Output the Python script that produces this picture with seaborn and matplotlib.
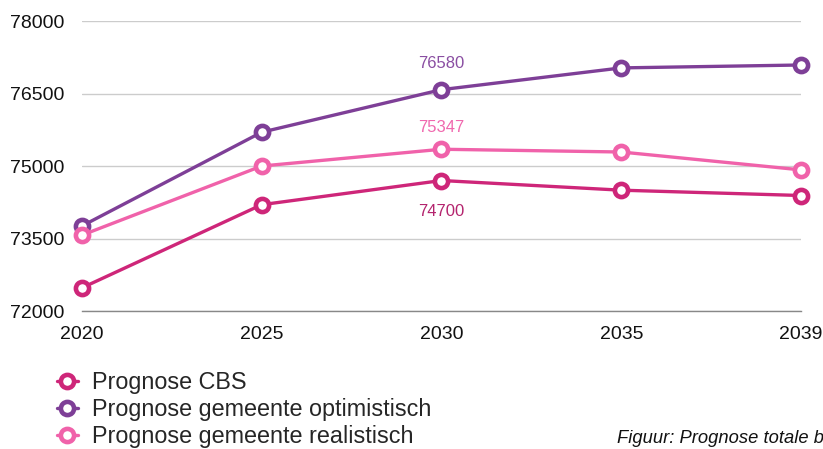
import seaborn as sns
import matplotlib.pyplot as plt
import pandas as pd

# Data
years = ['2020', '2025', '2030', '2035', '2039']
cbs = [72480, 74200, 74700, 74500, 74390]
optimistisch = [73760, 75700, 76580, 77030, 77090]
realistisch = [73570, 75000, 75347, 75290, 74920]

series_names = ['Prognose CBS',
                'Prognose gemeente optimistisch',
                'Prognose gemeente realistisch']
colors = ['#CE2679', '#7E3F97', '#F062AA']
label_colors = ['#B4246E', '#8A4EA2', '#F068AE']
yticks = [72000, 73500, 75000, 76500, 78000]

df = pd.DataFrame({
    'jaar': years * 3,
    'inwoners': cbs + optimistisch + realistisch,
    'reeks': [s for s in series_names for _ in years],
})

sns.set_style('white')
plt.rcParams['font.family'] = ['Liberation Sans', 'DejaVu Sans']

fig = plt.figure(figsize=(8.23, 4.49), dpi=100)
ax = fig.add_axes([0.0996, 0.3073, 0.8737, 0.6459])

sns.lineplot(data=df, x='jaar', y='inwoners', hue='reeks',
             hue_order=series_names, palette=colors,
             marker='o', markersize=9.5, markeredgewidth=3.3,
             markerfacecolor='white', linewidth=2.4,
             legend=False, ax=ax, zorder=3)
for line in ax.lines:
    line.set_clip_on(False)
    line.set_markeredgecolor(line.get_color())

ax.set_xlim(0, len(years) - 1)
ax.set_ylim(72000, 78000)
ax.set_yticks(yticks)
ax.set_yticklabels([str(t) for t in yticks])
ax.yaxis.grid(True, color='#CCCCCC', linewidth=1)
ax.xaxis.grid(False)
for side in ['top', 'right', 'left']:
    ax.spines[side].set_visible(False)
ax.spines['bottom'].set_color('#888888')
ax.spines['bottom'].set_linewidth(1)
ax.tick_params(axis='both', length=0, labelsize=14, colors='#111111')
ax.tick_params(axis='y', pad=12.5)
ax.tick_params(axis='x', pad=11)
ax.set_xlabel('')
ax.set_ylabel('')

# value labels at 2030
i2030 = years.index('2030')
ax.annotate(str(optimistisch[i2030]), (i2030, optimistisch[i2030]),
            xytext=(0, 19), textcoords='offset points', ha='center',
            va='center', fontsize=12, color=label_colors[1])
ax.annotate(str(realistisch[i2030]), (i2030, realistisch[i2030]),
            xytext=(0, 15.5), textcoords='offset points', ha='center',
            va='center', fontsize=12, color=label_colors[2])
ax.annotate(str(cbs[i2030]), (i2030, cbs[i2030]),
            xytext=(0, -22), textcoords='offset points', ha='center',
            va='center', fontsize=12, color=label_colors[0])

# legend
handles = [plt.Line2D([], [], color=c, marker='o', markersize=9.5,
                      markeredgewidth=3.3, markerfacecolor='white',
                      markeredgecolor=c, linewidth=2.4)
           for c in colors]
fig.legend(handles, series_names, loc='upper left',
           bbox_to_anchor=(0.069, 0.173), frameon=False, fontsize=16.8,
           handlelength=0.9, handletextpad=0.6, labelspacing=0.17,
           borderaxespad=0, borderpad=0)

fig.text(0.75, 0.0134, 'Figuur: Prognose totale bevolking',
         fontsize=13.2, style='italic', color='#111111', va='baseline')

plt.savefig('out.png', dpi=100)
